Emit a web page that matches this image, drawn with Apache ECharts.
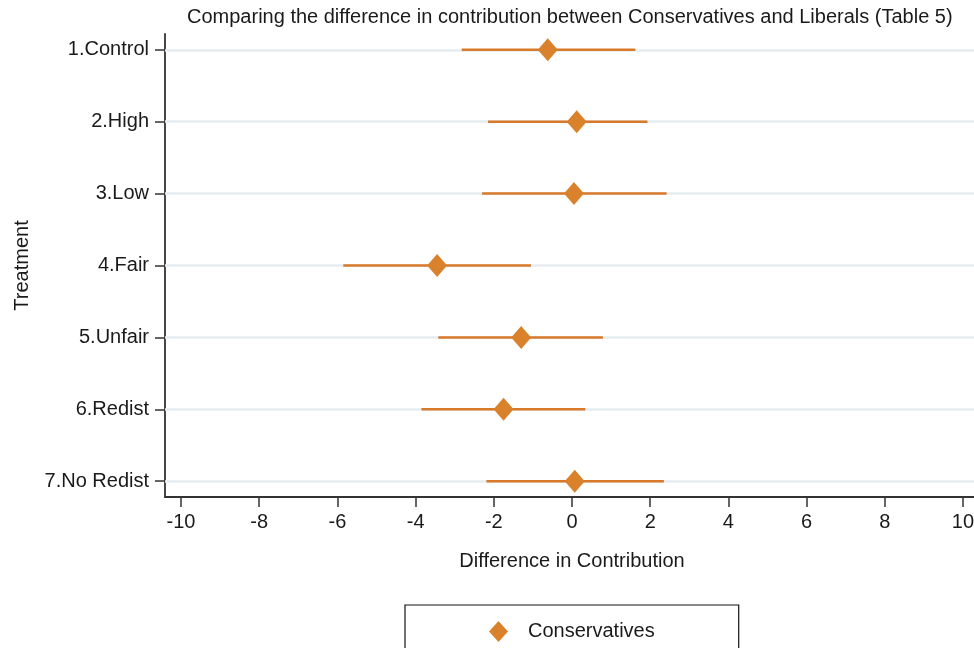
<!DOCTYPE html>
<html>
<head>
<meta charset="utf-8">
<script src="https://cdn.jsdelivr.net/npm/echarts@6/dist/echarts.min.js"></script>
<style>
html,body{margin:0;padding:0;background:#fff;}
#chart{width:974px;height:648px;}
</style>
</head>
<body>
<div id="chart"></div>
<script>
const categories = ['1.Control', '2.High', '3.Low', '4.Fair', '5.Unfair', '6.Redist', '7.No Redist'];
const estimates = [-0.62, 0.12, 0.05, -3.45, -1.30, -1.75, 0.07];
const lowerCI = [-2.82, -2.15, -2.30, -5.85, -3.42, -3.85, -2.19];
const upperCI = [1.62, 1.93, 2.42, -1.05, 0.79, 0.34, 2.35];
const xTicks = [-10, -8, -6, -4, -2, 0, 2, 4, 6, 8, 10];
const yTicks = [1, 2, 3, 4, 5, 6, 7];

const FONT = "'Liberation Sans', Arial, Helvetica, sans-serif";
const TXT = '#1a1a1a';
const ORANGE = '#d9822b';
const ORANGE_LINE = '#d8792a';

const chart = echarts.init(document.getElementById('chart'), null, {renderer: 'canvas'});

const pointData = estimates.map((v, i) => [v, i + 1]);
const barData = categories.map((c, i) => [lowerCI[i], upperCI[i], i + 1]);

chart.setOption({
  animation: false,
  backgroundColor: '#ffffff',
  textStyle: {fontFamily: FONT, color: TXT},
  title: {
    text: 'Comparing the difference in contribution between Conservatives and Liberals (Table 5)',
    left: 187,
    top: 7,
    padding: 0,
    textStyle: {fontFamily: FONT, fontSize: 20, fontWeight: 'normal', color: TXT}
  },
  grid: {left: 165, top: 34, width: 814, height: 463, containLabel: false, outerBoundsMode: 'none'},
  xAxis: {
    type: 'value',
    min: -10.41,
    max: 10.41,
    name: 'Difference in Contribution',
    nameLocation: 'middle',
    nameGap: 54,
    nameTextStyle: {fontFamily: FONT, fontSize: 20, color: TXT},
    axisLine: {show: true, onZero: false, lineStyle: {color: '#333', width: 1.8}},
    axisTick: {show: true, length: 10, customValues: xTicks, lineStyle: {color: '#333', width: 1.5}},
    axisLabel: {customValues: xTicks, margin: 15, fontFamily: FONT, fontSize: 20, color: TXT},
    splitLine: {show: false}
  },
  yAxis: {
    type: 'value',
    inverse: true,
    min: 0.78,
    max: 7.22,
    name: 'Treatment',
    nameLocation: 'middle',
    nameRotate: 90,
    nameGap: 133,
    nameTextStyle: {fontFamily: FONT, fontSize: 20, color: TXT},
    axisLine: {show: true, onZero: false, lineStyle: {color: '#333', width: 1.8}},
    axisTick: {show: true, length: 10, customValues: yTicks, lineStyle: {color: '#333', width: 1.5}},
    axisLabel: {
      customValues: yTicks,
      margin: 16,
      fontFamily: FONT, fontSize: 20, color: TXT,
      formatter: v => categories[Math.round(v) - 1] || ''
    },
    splitLine: {show: false}
  },
  legend: {
    data: [{name: 'Conservatives', icon: 'diamond'}],
    left: 405,
    top: 605,
    orient: 'horizontal',
    padding: [16, 84, 22, 84],
    borderColor: '#111',
    borderWidth: 1.2,
    borderRadius: 0,
    itemWidth: 19,
    itemHeight: 21,
    selectedMode: false,
    textStyle: {fontFamily: FONT, fontSize: 20, color: TXT, padding: [0, 0, 0, 15]}
  },
  series: [
    {
      name: 'CI',
      type: 'custom',
      silent: true,
      data: barData,
      encode: {x: [0, 1], y: 2},
      z: 3,
      renderItem: function (params, api) {
        const p1 = api.coord([api.value(0), api.value(2)]);
        const p2 = api.coord([api.value(1), api.value(2)]);
        return {
          type: 'line',
          shape: {x1: p1[0], y1: p1[1], x2: p2[0], y2: p2[1]},
          style: {stroke: ORANGE_LINE, lineWidth: 2.5}
        };
      },
      markLine: {
        silent: true,
        symbol: 'none',
        label: {show: false},
        z: 1,
        lineStyle: {color: '#e5edf1', width: 2.5, type: 'solid'},
        data: yTicks.map(v => ({yAxis: v}))
      }
    },
    {
      name: 'Conservatives',
      type: 'scatter',
      symbol: 'diamond',
      symbolSize: [20, 23],
      z: 5,
      itemStyle: {color: ORANGE, opacity: 1},
      data: pointData
    }
  ]
});
</script>
</body>
</html>
